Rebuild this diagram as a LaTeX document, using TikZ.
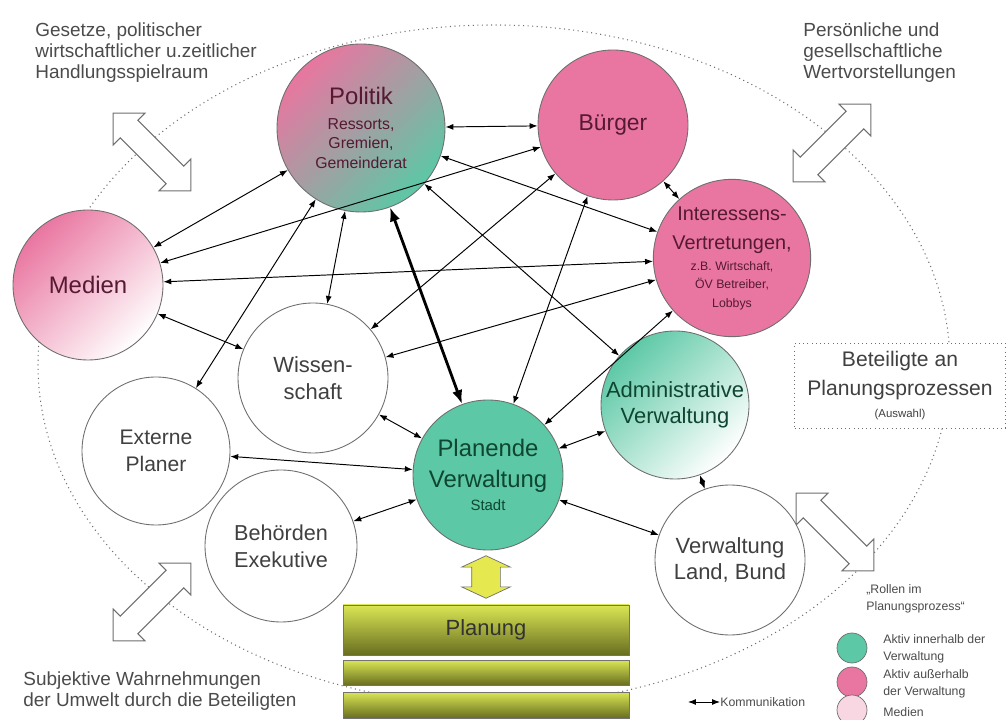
\documentclass[tikz,border=0pt]{standalone}
\usepackage{fontspec}
\setmainfont{Liberation Sans}
\usetikzlibrary{arrows.meta,shapes.arrows}

\definecolor{rosa}{RGB}{233,118,160}
\definecolor{gruen}{RGB}{92,200,165}
\definecolor{weinrot}{RGB}{85,25,50}
\definecolor{dunkelgruen}{RGB}{15,70,50}
\definecolor{textgrau}{RGB}{75,75,75}
\definecolor{randgrau}{RGB}{110,110,110}
\definecolor{gelb}{RGB}{230,232,80}
\definecolor{olivhell}{RGB}{218,230,84}
\definecolor{olivdunkel}{RGB}{104,110,32}

\newcommand{\schrift}[2]{\fontsize{#1}{#2}\selectfont}

\begin{document}
\begin{tikzpicture}[
    rolle/.style={circle, draw=randgrau, line width=0.5pt, minimum size=3cm, inner sep=0pt, align=center, text=black!75},
    komm/.style={<->, >={Latex[length=4.5pt,width=3.4pt]}, line width=0.55pt},
    kommfett/.style={<->, >={Latex[length=8pt,width=6pt]}, line width=1.6pt},
    hohlpfeil/.style={double arrow, draw=randgrau, fill=white, line width=0.6pt, minimum height=2.2cm, minimum width=0.9cm, double arrow head extend=0.2cm, inner xsep=0pt, inner ysep=0.24cm},
    balken/.style={draw=black!55, top color=olivhell, bottom color=olivdunkel, minimum width=5.72cm, inner sep=0pt},
    randtext/.style={inner sep=0pt, align=left, text=textgrau, font=\schrift{10.8}{12}},
    legtext/.style={inner sep=0pt, align=left, text=textgrau, font=\schrift{7}{10}},
    legkreis/.style={circle, draw=randgrau, minimum size=0.6cm, inner sep=0pt}
  ]
  \useasboundingbox (0,0) rectangle (20.16,14.38);

  % Rahmen
  \draw[randgrau, dotted, line width=0.6pt] (9.88,7.08) ellipse (9.12 and 6.8);

  % Einfluesse von aussen
  \node[hohlpfeil, rotate=-45] (hp1) at (3.04,11.34) {};
  \node[hohlpfeil, rotate=45] (hp2) at (16.64,11.52) {};
  \node[hohlpfeil, rotate=-45] (hp3) at (16.7,3.74) {};
  \node[hohlpfeil, rotate=45] (hp4) at (3.04,2.34) {};

  \node[randtext, anchor=west] (t1) at (0.7,13.33) {Gesetze, politischer\\wirtschaftlicher u.zeitlicher\\Handlungsspielraum};
  \node[randtext, anchor=west] (t2) at (16.06,13.33) {Persönliche und\\gesellschaftliche\\Wertvorstellungen};
  \node[randtext, anchor=west] (t3) at (0.46,0.56) {Subjektive Wahrnehmungen\\der Umwelt durch die Beteiligten};

  % Rollen
  \node[rolle, minimum size=3.36cm, top color=rosa, bottom color=gruen, shading angle=45, text=weinrot, font=\schrift{9}{11.3}] (pol) at (7.22,11.82)
    {\schrift{13.6}{16}Politik\\[2.7pt]Ressorts,\\Gremien,\\Gemeinderat};
  \node[rolle, fill=rosa, text=weinrot, font=\schrift{13}{15}] (bue) at (12.26,11.88) {Bürger};
  \node[rolle, fill=rosa, text=weinrot, font=\schrift{7}{10.5}] (int) at (14.64,9.22)
    {\schrift{11.3}{16}Interessens-\\[6pt]\schrift{11.3}{16}Vertretungen,\\[1.5pt]z.B. Wirtschaft,\\ÖV Betreiber,\\Lobbys};
  \node[rolle, top color=rosa, bottom color=white, shading angle=45, text=weinrot, font=\schrift{13.6}{16}] (med) at (1.76,8.68) {Medien};
  \node[rolle, fill=white, font=\schrift{12.5}{15.5}] (wis) at (6.26,6.82) {Wissen-\\schaft};
  \node[rolle, fill=white, minimum size=2.96cm, font=\schrift{12}{15.3}] (ext) at (3.12,5.36) {Externe\\Planer};
  \node[rolle, fill=white, minimum size=3.04cm, font=\schrift{12.3}{15.3}] (beh) at (5.62,3.46) {Behörden\\Exekutive};
  \node[rolle, fill=gruen, text=dunkelgruen, font=\schrift{8.5}{13}] (pla) at (9.76,4.88)
    {\schrift{13.6}{18}Planende\\[5pt]\schrift{13.6}{18}Verwaltung\\Stadt};
  \node[rolle, minimum size=2.96cm, top color=gruen, bottom color=white, shading angle=45, text=dunkelgruen, font=\schrift{12.5}{14.7}] (adm) at (13.50,6.28)
    {Administrative\\Verwaltung};
  \node[rolle, fill=white, font=\schrift{12.5}{15.3}] (lan) at (14.60,3.18) {Verwaltung\\Land, Bund};

  \node[draw=randgrau, dotted, fill=white, minimum width=4.22cm, minimum height=1.7cm, align=center, text=black!75, font=\schrift{6.5}{12.5}] (bet) at (18.0,6.67)
    {\schrift{12}{16.5}Beteiligte an\\[4.5pt]\schrift{12}{16.5}Planungsprozessen\\(Auswahl)};

  % Planung
  \node[double arrow, draw=randgrau, fill=gelb, rotate=90, minimum height=0.85cm, minimum width=0.96cm, double arrow head extend=0.2cm, double arrow tip angle=130, inner xsep=0pt, inner ysep=0.28cm] (gp) at (9.72,2.84) {};
  \node[balken, minimum height=1.0cm, font=\schrift{12.5}{14}, text=black!80] (bal1) at (9.72,1.78) {Planung};
  \node[balken, minimum height=0.5cm] (bal2) at (9.72,0.93) {};
  \node[balken, minimum height=0.52cm] (bal3) at (9.72,0.28) {};

  % Kommunikation
  \draw[komm] (pol) -- (bue);
  \draw[komm] (pol) -- (med);
  \draw[komm] (pol) -- (ext);
  \draw[komm] (pol) -- (wis);
  \draw[komm] (pol) -- (int);
  \draw[komm] (pol) -- (adm);
  \draw[kommfett] (pol) -- (pla);
  \draw[komm] (med) -- (bue);
  \draw[komm] (med) -- (int);
  \draw[komm] (med) -- (wis);
  \draw[komm] (wis) -- (bue);
  \draw[komm] (wis) -- (int);
  \draw[komm] (wis) -- (pla);
  \draw[komm] (ext) -- (pla);
  \draw[komm] (beh) -- (pla);
  \draw[komm] (bue) -- (int);
  \draw[komm] (bue) -- (pla);
  \draw[komm] (int) -- (pla);
  \draw[komm] (pla) -- (adm);
  \draw[komm] (pla) -- (lan);
  \draw[komm] (adm) -- (lan);

  % Legende
  \node[legtext, anchor=west] (rol) at (17.32,2.4) {„Rollen im\\Planungsprozess“};
  \node[legkreis, fill=gruen] (lg1) at (17.04,1.42) {};
  \node[legkreis, fill=rosa] (lg2) at (17.04,0.74) {};
  \node[legkreis, fill=rosa!30] (lg3) at (17.04,0.18) {};
  \node[legtext, anchor=west] (lt1) at (17.66,1.4) {Aktiv innerhalb der\\Verwaltung};
  \node[legtext, anchor=west] (lt2) at (17.66,0.70) {Aktiv außerhalb\\der Verwaltung};
  \node[legtext, anchor=west] (lt3) at (17.66,0.14) {Medien};
  \coordinate (k1) at (13.76,0.34);
  \node[legtext, anchor=west] (kom) at (14.4,0.34) {Kommunikation};
  \draw[komm] (k1) -- (kom.west);
\end{tikzpicture}
\end{document}
